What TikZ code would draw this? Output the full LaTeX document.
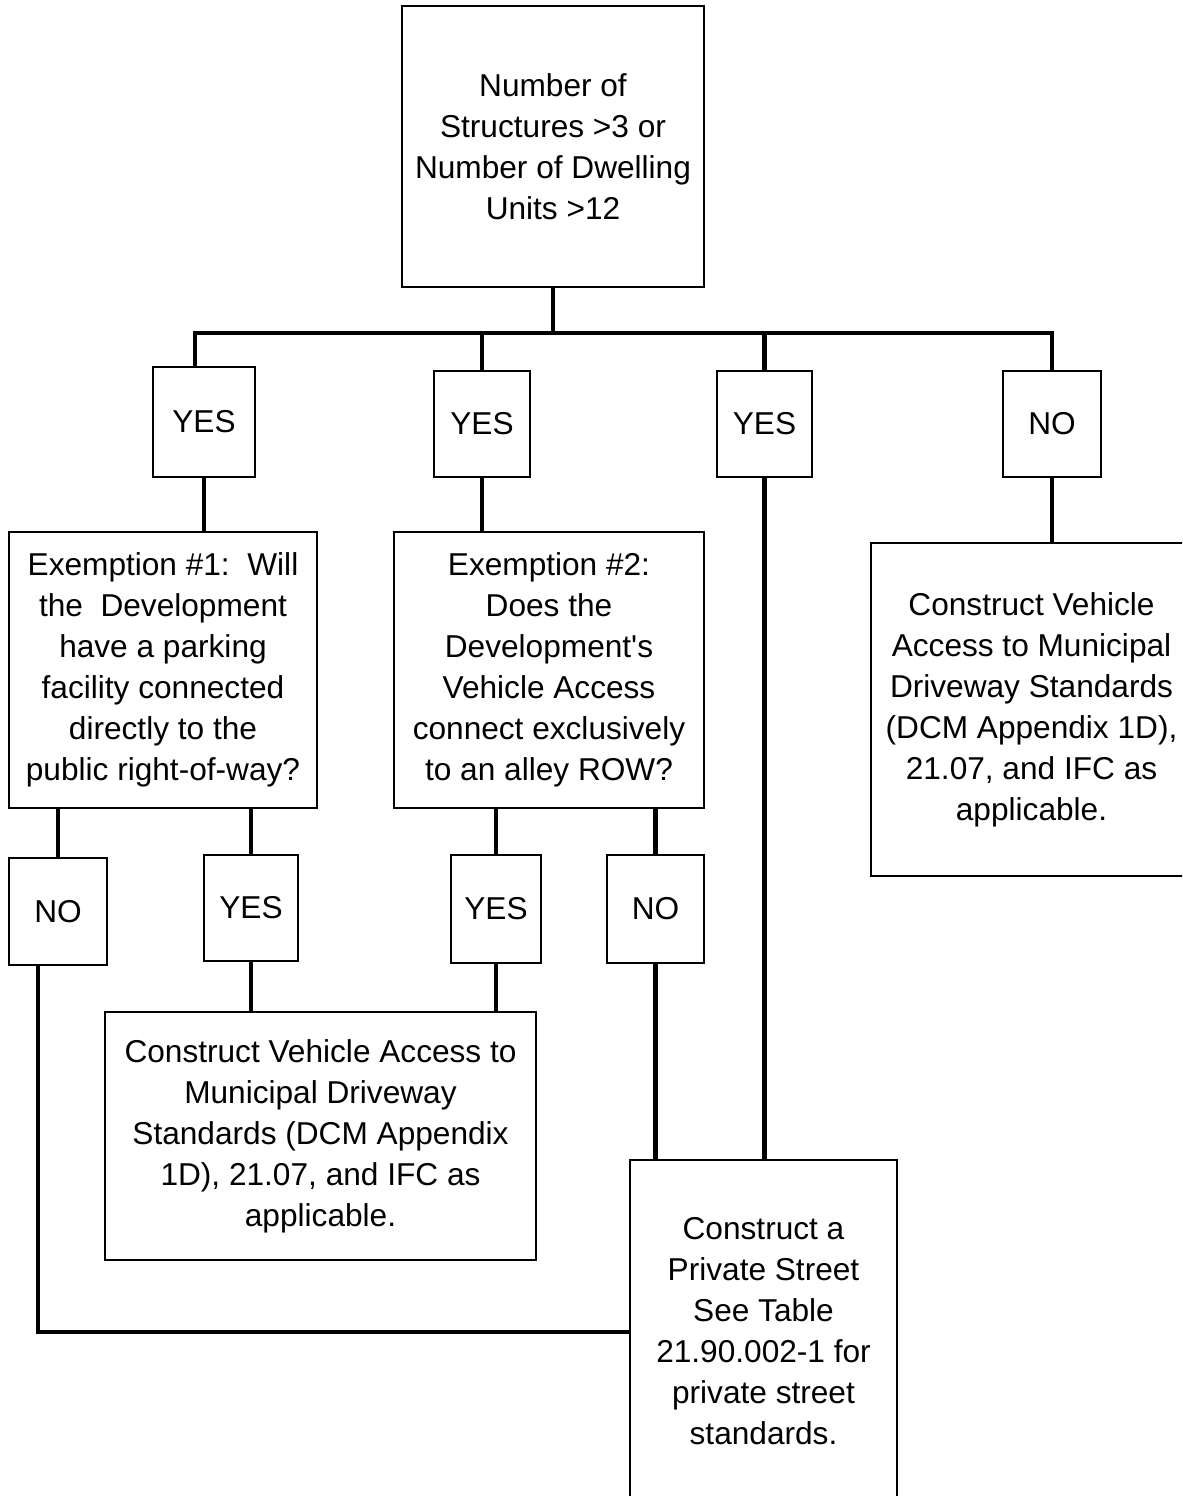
\documentclass[tikz,border=0pt]{standalone}
\usepackage{fontspec}
\setmainfont{Liberation Sans}
\usetikzlibrary{calc}

\begin{document}
\begin{tikzpicture}[x=0.02cm, y=-0.02cm]
\tikzstyle{box} = [rectangle, draw, line width=0.9pt, inner sep=0pt, align=center,
  font=\fontsize{18}{23.3}\selectfont]
\tikzstyle{wire} = [line width=2.3pt]
\useasboundingbox (0,0) rectangle (1182,1496);
\clip (0,0) rectangle (1182,1496);
% question and answers
\node [box, minimum width=6.04cm, minimum height=5.62cm] (top) at (553,146.5)
  {Number of\\Structures >3 or\\Number of Dwelling\\Units >12};
\node [box, minimum width=2.04cm, minimum height=2.2cm] (yes1) at (204,422) {YES};
\node [box, minimum width=1.92cm, minimum height=2.12cm] (yes2) at (482,424) {YES};
\node [box, minimum width=1.9cm, minimum height=2.12cm] (yes3) at (764.5,424) {YES};
\node [box, minimum width=1.96cm, minimum height=2.12cm] (no1) at (1052,424) {NO};
\node [box, minimum width=6.16cm, minimum height=5.52cm] (ex1) at (163,670)
  {Exemption \#1:\ \ Will\\the\ \ Development\\have a parking\\facility connected\\directly to the\\public right-of-way?};
\node [box, minimum width=6.2cm, minimum height=5.52cm] (ex2) at (549,670)
  {Exemption \#2:\\Does the\\Development\textquotesingle s\\Vehicle Access\\connect exclusively\\to an alley ROW?};
\node [box, minimum width=6.42cm, minimum height=6.66cm] (drive1) at (1031.5,709.5)
  {Construct Vehicle\\Access to Municipal\\Driveway Standards\\(DCM Appendix 1D),\\21.07, and IFC as\\applicable.};
\node [box, minimum width=1.96cm, minimum height=2.14cm] (no2) at (58,911.5) {NO};
\node [box, minimum width=1.88cm, minimum height=2.12cm] (yes4) at (251,908) {YES};
\node [box, minimum width=1.8cm, minimum height=2.16cm] (yes5) at (496,909) {YES};
\node [box, minimum width=1.94cm, minimum height=2.16cm] (no3) at (655.5,909) {NO};
\node [box, minimum width=8.62cm, minimum height=4.96cm] (drive2) at (320.5,1136)
  {Construct Vehicle Access to\\Municipal Driveway\\Standards (DCM Appendix\\1D), 21.07, and IFC as\\applicable.};
\node [box, minimum width=5.34cm, minimum height=6.84cm] (street) at (763.5,1331)
  {Construct a\\Private Street\\See Table\\21.90.002-1 for\\private street\\standards.};
% connectors
\coordinate (hub) at (553,333);
\coordinate (joint) at (38,1332);
\draw [wire] (top.south) -- (hub);
\draw [wire] ($(yes1.north)+(-9,0)$) -- ($(yes1.north |- hub)+(-9,0)$) -- (no1.north |- hub) -- (no1.north);
\draw [wire] (yes2.north) -- (yes2.north |- hub);
\draw [wire] (yes3.north) -- (yes3.north |- hub);
\draw [wire] (yes1.south) -- (yes1.south |- ex1.north);
\draw [wire] (yes2.south) -- (yes2.south |- ex2.north);
\draw [wire] (yes3.south) -- (yes3.south |- street.north);
\draw [wire] (no1.south) -- (no1.south |- drive1.north);
\draw [wire] (no2.north) -- (no2.north |- ex1.south);
\draw [wire] (yes4.north) -- (yes4.north |- ex1.south);
\draw [wire] (yes5.north) -- (yes5.north |- ex2.south);
\draw [wire] (no3.north) -- (no3.north |- ex2.south);
\draw [wire] (yes4.south) -- (yes4.south |- drive2.north);
\draw [wire] (yes5.south) -- (yes5.south |- drive2.north);
\draw [wire] (no3.south) -- (no3.south |- street.north);
\draw [wire] ($(no2.south)+(-20,0)$) -- (joint) -- (joint -| street.west);
\end{tikzpicture}
\end{document}
